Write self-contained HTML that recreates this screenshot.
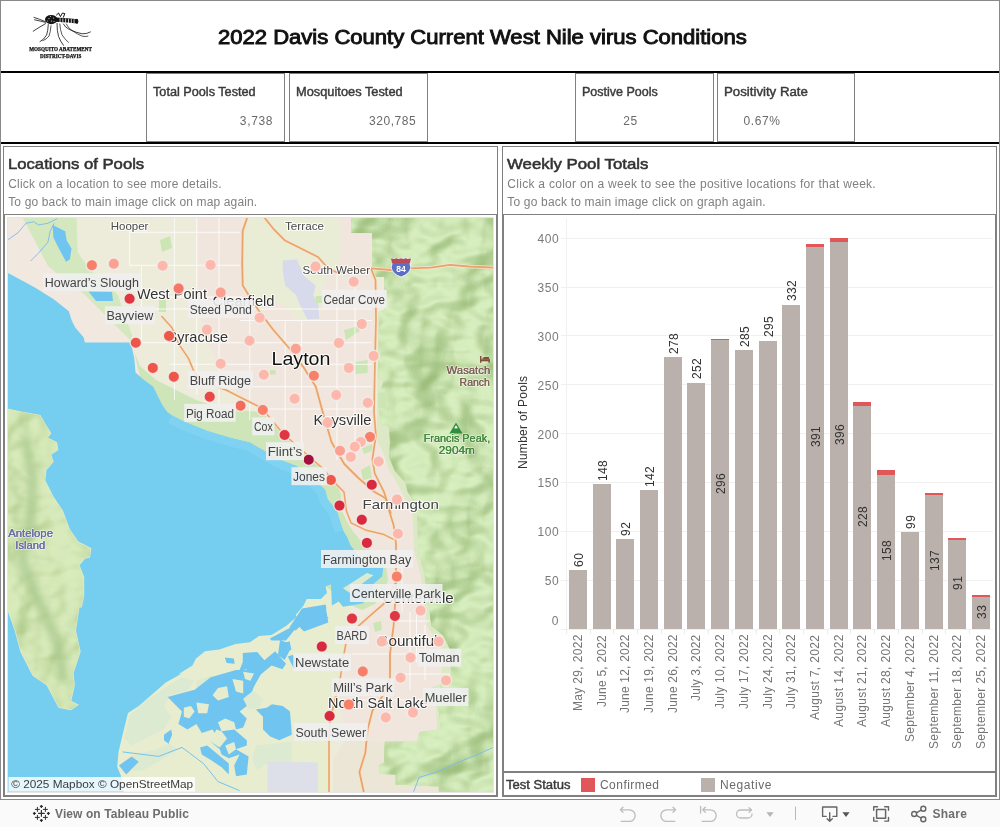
<!DOCTYPE html><html><head><meta charset="utf-8"><title>2022 Davis County Current West Nile virus Conditions</title><style>

html,body{margin:0;padding:0;background:#fff}
body{width:1000px;height:827px;position:relative;overflow:hidden;font-family:"Liberation Sans",sans-serif}
.t{position:absolute;white-space:pre;line-height:1;transform-origin:0 0}
.b{position:absolute;box-sizing:border-box}

</style></head><body><div id="w" style="position:absolute;left:0;top:0;width:1000px;height:827px;will-change:transform;background:#fff">

<div class="b" style="left:0;top:0;width:1000px;height:800px;border:1px solid #8a8a8a"></div>
<div class="b" style="left:0;top:800px;width:1000px;height:27px;background:#fafafa"></div>
<div class="b" style="left:1px;top:71px;width:998px;height:2px;background:#000"></div>
<div class="b" style="left:1px;top:142px;width:998px;height:2px;background:#000"></div>
<div class="b" style="left:146px;top:73px;width:139px;height:69px;border:1px solid #808080"></div>
<div class="b" style="left:289px;top:73px;width:139px;height:69px;border:1px solid #808080"></div>
<div class="b" style="left:575px;top:73px;width:139px;height:69px;border:1px solid #808080"></div>
<div class="b" style="left:717px;top:73px;width:138px;height:69px;border:1px solid #808080"></div>
<div class="b" style="left:1px;top:71px;width:998px;height:2px;background:#000"></div>
<div class="b" style="left:1px;top:142px;width:998px;height:2px;background:#000"></div>
<div class="b" style="left:3px;top:146px;width:495px;height:651px;border:1px solid #808080"></div>
<div class="b" style="left:4px;top:214px;width:493px;height:582px;border:1px solid #808080"></div>
<div class="b" style="left:502px;top:146px;width:495px;height:651px;border:1px solid #808080"></div>
<div class="b" style="left:503px;top:214px;width:493px;height:558px;border:1px solid #808080"></div>
<div class="b" style="left:503px;top:772px;width:493px;height:24px;border:1px solid #808080"></div>
<div class="b" style="left:581px;top:778px;width:14px;height:14px;background:#e15759"></div>
<div class="b" style="left:701px;top:778px;width:14px;height:14px;background:#bab0ac"></div>

<svg class="b" style="left:26px;top:6px" width="72" height="56" viewBox="26 6 72 56">
<g fill="none" stroke="#111" stroke-linecap="round">
<ellipse cx="51.2" cy="19.6" rx="6.2" ry="4.6" fill="#151515" stroke="none"/>
<path d="M56 19.6 L63 20.2 L70 20.7 L77.3 21.3" stroke-width="4.2" stroke-linecap="butt"/>
<path d="M77 19.3 q1.6 2 0 4" stroke-width="1.2"/>
<path d="M56.5 15 L58.5 13 L60 15.8 M60.5 16.5 L62.5 13 L64.8 13.6 L63.4 17.2" stroke-width="1"/>
<path d="M45.5 21.6 L39.5 19.3 L34 17.4 M45.3 22.3 L39 20.8 L34.6 19.8" stroke-width="0.8"/>
<path d="M45.6 23.6 L39 27.5 L33.2 31.2" stroke-width="0.8"/>
<path d="M48.3 24.5 Q48 31 46.6 35 Q44 39.5 40 41.7" stroke-width="0.8"/>
<path d="M51 25.8 Q50.6 32 49 36 Q46.5 39.5 42.8 40.7" stroke-width="0.7"/>
<path d="M57 23.3 Q57 31 58.5 36.4 Q60.5 41.5 63.4 45.3" stroke-width="0.8"/>
<path d="M59.8 24 Q60.2 30 62 34.8 Q64.5 39 68.5 42.4" stroke-width="0.7"/>
<path d="M63.4 24 Q65 27.4 69.2 29.4 Q76 32.6 82.2 33.8 Q87 34 90.4 32" stroke-width="0.8"/>
<path d="M66.3 24 Q68 28 72.1 30.6 Q77 34 82.2 36.2 Q85 36.8 87.9 36.2" stroke-width="0.7"/>
</g>
<g fill="#fff" opacity="0.85"><rect x="59.6" y="18.2" width="0.9" height="4.4"/><rect x="62.4" y="18.4" width="0.9" height="4.4"/><rect x="65.2" y="18.6" width="0.9" height="4.4"/><rect x="68" y="18.8" width="0.9" height="4.4"/><rect x="70.8" y="19" width="0.9" height="4.4"/><rect x="73.6" y="19.2" width="0.9" height="4.4"/>
<circle cx="49" cy="18.6" r="0.6"/><circle cx="51.5" cy="21" r="0.6"/><circle cx="53.6" cy="18" r="0.55"/><circle cx="50.5" cy="16.6" r="0.5"/><circle cx="47.6" cy="21" r="0.5"/><circle cx="54" cy="21.6" r="0.5"/></g>
<g font-family="'Liberation Serif',serif" font-weight="700" fill="#111" stroke="#111" stroke-width="0.25">
<text x="29.2" y="51" font-size="5.2" textLength="62.7" lengthAdjust="spacingAndGlyphs">MOSQUITO ABATEMENT</text>
<text x="40" y="57.8" font-size="5.2" textLength="41.4" lengthAdjust="spacingAndGlyphs">DISTRICT-DAVIS</text>
</g></svg>
<svg class="b" style="left:7px;top:217px" width="487" height="576" viewBox="7 217 487 576" font-family="'Liberation Sans',sans-serif">
<defs>
<filter id="hs" x="0" y="0" width="100%" height="100%" color-interpolation-filters="sRGB"><feTurbulence type="fractalNoise" baseFrequency="0.016 0.022" numOctaves="3" seed="11" result="n"/>
<feDiffuseLighting in="n" surfaceScale="30" diffuseConstant="1" lighting-color="#fff" result="l"><feDistantLight azimuth="200" elevation="60"/></feDiffuseLighting>
<feColorMatrix in="l" type="matrix" values="0.24 0 0 0 0.605  0 0.195 0 0 0.738  0 0 0.27 0 0.478  0 0 0 1 0" result="c"/><feComposite in="c" in2="SourceGraphic" operator="in"/></filter>
<filter id="hs2" x="0" y="0" width="100%" height="100%" color-interpolation-filters="sRGB"><feTurbulence type="fractalNoise" baseFrequency="0.02 0.025" numOctaves="3" seed="4" result="n"/>
<feDiffuseLighting in="n" surfaceScale="13" diffuseConstant="1" lighting-color="#fff" result="l"><feDistantLight azimuth="200" elevation="62"/></feDiffuseLighting>
<feColorMatrix in="l" type="matrix" values="0.22 0 0 0 0.63  0 0.17 0 0 0.75  0 0 0.26 0 0.475  0 0 0 1 0" result="c"/><feComposite in="c" in2="SourceGraphic" operator="in"/></filter>
</defs>
<rect x="7" y="217" width="487" height="576" fill="#f1e8df"/>
<polygon points="76.5,217.0 77.7,252.4 88.3,267.7 117.8,294.8 124.9,316.0 132.0,334.9 134.0,352.0 140.0,366.0 156.0,380.0 174.0,389.0 196.0,400.0 217.7,407.0 240.0,410.0 261.6,412.0 282.8,433.2 304.0,452.0 322.9,468.6 337.0,485.0 341.0,495.0 346.0,520.0 360.0,540.0 378.0,556.0 388.0,580.0 375.0,604.0 345.0,625.0 340.0,680.0 331.0,740.0 331.0,793.0 494.0,793.0 494.0,217.0" fill="#edecda"/>
<polygon points="196.0,217.0 264.0,217.0 273.0,228.0 285.0,240.0 304.0,250.0 318.0,257.0 333.0,270.0 338.0,262.0 340.0,240.0 338.0,217.0 351.0,217.0 351.0,234.0 372.5,234.0 372.5,270.0 376.0,300.0 376.0,412.0 377.0,440.0 384.0,455.0 389.0,470.0 398.0,485.0 403.0,495.0 412.0,510.0 414.0,551.0 420.0,572.0 425.0,607.0 427.0,626.0 436.0,640.0 443.0,655.0 440.0,684.0 436.0,706.0 437.0,732.0 417.0,741.0 345.0,741.0 340.0,700.0 345.0,640.0 375.0,604.0 388.0,580.0 378.0,556.0 360.0,540.0 346.0,520.0 337.0,485.0 322.0,468.0 304.0,452.0 282.0,433.0 262.0,412.0 250.0,404.0 228.0,385.0 208.0,345.0 197.0,300.0" fill="#f1e6de"/>
<polygon points="247.0,217.0 338.0,217.0 340.0,240.0 338.0,262.0 333.0,272.0 322.0,290.0 320.0,318.0 300.0,322.0 285.0,305.0 270.0,300.0 262.0,312.0 250.0,297.0 243.0,285.0 242.4,260.0 243.0,231.0" fill="#eaedd6"/>
<polygon points="110.0,793.0 110.0,700.0 150.0,680.0 200.0,640.0 260.0,625.0 300.0,595.0 330.0,580.0 352.0,600.0 346.0,640.0 339.0,690.0 331.0,740.0 331.0,793.0" fill="#e8edcf"/>
<polygon points="345.0,741.0 384.8,741.4 383.9,763.0 379.4,764.8 379.4,773.8 395.6,774.7 395.6,784.6 438.8,786.4 438.8,793.0 333.0,793.0 333.0,760.0" fill="#ebe6d6"/>
<polygon points="22.3,217.0 76.5,217.0 77.7,252.4 88.3,267.7 117.8,294.8 124.9,316.0 132.0,334.9 131.0,342.4 129.6,339.6 84.8,294.8 48.3,266.5" fill="#d3e8be"/>
<polygon points="134.3,352.0 140.0,366.0 156.0,380.0 174.0,389.0 196.0,400.0 217.7,407.0 240.0,410.0 261.6,412.0 282.8,433.2 304.0,452.0 322.9,468.6 337.0,485.0 341.0,495.0 341.0,508.0 346.0,520.0 352.0,530.0 360.0,540.0 368.0,548.0 378.0,556.0 386.0,566.0 388.0,580.0 384.0,592.0 375.0,604.0 362.0,610.0 345.0,603.0 330.0,590.0 300.0,560.0 250.0,520.0 200.0,480.0 150.0,420.0" fill="#cde5b8"/>
<polygon points="351.0,217.0 351.0,233.5 372.5,233.5 372.5,272.0 384.0,277.0 384.0,310.0 378.0,312.0 377.0,412.0 377.0,440.0 384.0,455.0 389.0,470.0 398.0,485.0 403.0,495.0 412.0,510.0 414.0,551.0 420.0,572.0 425.0,607.0 427.0,626.0 436.0,640.0 443.0,655.0 440.0,684.0 424.0,690.0 424.0,700.0 436.0,706.0 437.0,732.0 494.0,732.0 494.0,217.0" fill="#dde9c6"/>
<polygon points="351.0,217.0 351.0,233.0 372.0,233.0 372.4,277.0 384.0,277.0 384.0,310.0 379.0,312.0 378.3,377.0 384.0,380.0 379.4,395.0 379.4,412.0 380.6,423.8 388.9,426.0 390.0,442.6 388.9,456.8 394.8,471.0 405.4,482.7 407.7,492.0 417.0,506.3 418.3,551.0 424.2,572.3 429.0,607.0 431.3,625.9 443.0,635.3 450.0,649.4 451.3,677.7 440.7,684.8 438.4,706.0 440.7,729.6 419.5,732.0 417.0,741.4 384.8,741.4 383.9,763.0 379.4,764.8 379.4,773.8 395.6,774.7 395.6,784.6 438.8,786.4 438.8,793.0 494.0,793.0 494.0,217.0" fill="#c4dda7"/>
<polygon points="351.0,217.0 351.0,233.0 372.0,233.0 372.4,277.0 384.0,277.0 384.0,310.0 379.0,312.0 378.3,377.0 384.0,380.0 379.4,395.0 379.4,412.0 380.6,423.8 388.9,426.0 390.0,442.6 388.9,456.8 394.8,471.0 405.4,482.7 407.7,492.0 417.0,506.3 418.3,551.0 424.2,572.3 429.0,607.0 431.3,625.9 443.0,635.3 450.0,649.4 451.3,677.7 440.7,684.8 438.4,706.0 440.7,729.6 419.5,732.0 417.0,741.4 384.8,741.4 383.9,763.0 379.4,764.8 379.4,773.8 395.6,774.7 395.6,784.6 438.8,786.4 438.8,793.0 494.0,793.0 494.0,217.0" fill="#000" filter="url(#hs)"/>
<polygon points="7.0,272.4 18.8,278.8 35.3,287.7 54.1,299.5 68.8,311.3 71.8,320.7 75.4,327.8 83.6,337.2 84.8,342.4 130.8,342.4 134.3,358.4 135.5,372.6 143.7,379.7 153.2,386.7 157.9,396.2 162.6,405.6 167.3,412.0 172.0,415.5 183.8,421.4 207.4,430.9 230.9,437.9 249.8,442.6 266.3,452.0 278.0,459.0 297.0,466.2 300.5,471.0 318.0,482.7 325.0,489.8 327.6,499.2 337.0,511.0 339.0,518.0 342.9,530.0 347.6,537.9 350.7,545.7 353.9,549.6 366.0,566.0 383.3,567.6 382.2,576.3 373.5,584.0 371.4,594.8 362.7,603.5 343.0,606.8 338.7,601.4 331.9,605.4 331.0,584.2 325.6,586.6 327.0,592.9 320.9,599.0 306.7,599.0 303.6,605.4 295.7,614.9 296.8,617.0 286.0,626.0 271.6,635.0 259.0,635.9 250.0,642.2 235.6,644.0 219.4,649.4 205.0,651.2 196.0,658.4 192.4,665.6 178.0,674.6 182.0,673.6 165.8,682.6 151.4,695.0 138.8,706.0 128.0,713.0 122.6,734.8 118.5,752.0 117.2,767.0 121.0,776.0 124.0,793.0 7.0,793.0" fill="#75cef0"/>
<clipPath id="lk"><polygon points="7.0,272.4 18.8,278.8 35.3,287.7 54.1,299.5 68.8,311.3 71.8,320.7 75.4,327.8 83.6,337.2 84.8,342.4 130.8,342.4 134.3,358.4 135.5,372.6 143.7,379.7 153.2,386.7 157.9,396.2 162.6,405.6 167.3,412.0 172.0,415.5 183.8,421.4 207.4,430.9 230.9,437.9 249.8,442.6 266.3,452.0 278.0,459.0 297.0,466.2 300.5,471.0 318.0,482.7 325.0,489.8 327.6,499.2 337.0,511.0 339.0,518.0 342.9,530.0 347.6,537.9 350.7,545.7 353.9,549.6 366.0,566.0 383.3,567.6 382.2,576.3 373.5,584.0 371.4,594.8 362.7,603.5 343.0,606.8 338.7,601.4 331.9,605.4 331.0,584.2 325.6,586.6 327.0,592.9 320.9,599.0 306.7,599.0 303.6,605.4 295.7,614.9 296.8,617.0 286.0,626.0 271.6,635.0 259.0,635.9 250.0,642.2 235.6,644.0 219.4,649.4 205.0,651.2 196.0,658.4 192.4,665.6 178.0,674.6 182.0,673.6 165.8,682.6 151.4,695.0 138.8,706.0 128.0,713.0 122.6,734.8 118.5,752.0 117.2,767.0 121.0,776.0 124.0,793.0 7.0,793.0"/></clipPath>
<path d="M172.0 415.5 L183.8 421.4 L207.4 430.9 L230.9 437.9 L249.8 442.6 L266.3 452.0 L278.0 459.0 L297.0 466.2 L300.5 471.0 L318.0 482.7 L325.0 489.8 L327.6 499.2 L337.0 511.0 L339.0 518.0 L342.9 530.0" fill="none" stroke="#82d3f1" stroke-width="17" stroke-linejoin="round" clip-path="url(#lk)" opacity="0.8"/>
<polygon points="129.8,715.0 151.4,697.0 167.6,686.2 182.0,677.2 194.6,680.8 187.4,691.6 169.4,695.2 164.0,706.0 171.2,716.8 164.0,729.4 146.0,738.4 131.6,745.6 124.4,738.4" fill="#d9e9d2" opacity="0.8"/>
<polygon points="133.4,754.6 151.4,751.0 169.4,743.8 178.4,749.2 155.0,763.6 142.4,770.8 129.8,770.8" fill="#d9e9d2" opacity="0.8"/>
<polygon points="196.4,680.8 210.8,675.4 218.0,684.4 207.2,691.6 196.4,689.8" fill="#d9e9d2" opacity="0.8"/>
<polygon points="243.2,698.8 254.0,691.6 263.0,698.8 259.4,707.8 248.6,709.6" fill="#d9e9d2" opacity="0.8"/>
<polygon points="255.8,745.6 291.8,742.0 291.8,763.6 268.4,761.8 257.6,770.8 252.2,760.0" fill="#d9e9d2" opacity="0.8"/>
<polygon points="269.8,638.6 296.8,624.2 304.0,611.6 325.6,606.2 328.3,622.4 304.0,631.4 298.6,626.0 293.2,631.4 286.0,640.4 271.6,640.4" fill="#70c4f0"/>
<polygon points="302.0,608.6 325.6,604.6 326.4,608.6 316.0,611.7 325.6,615.6 328.7,618.0 311.4,621.0 300.4,625.9 295.7,630.6 289.4,627.4 295.7,618.0" fill="#70c4f0"/>
<polygon points="280.6,644.0 289.6,641.3 291.4,649.4 284.2,654.8" fill="#70c4f0"/>
<polygon points="287.8,656.6 293.2,654.8 298.6,665.6 294.0,669.0" fill="#70c4f0"/>
<polygon points="242.8,653.0 257.2,652.0 264.4,660.2 275.2,651.2 286.0,663.8 282.4,669.2 271.6,665.6 260.8,674.6 253.6,687.2 242.8,690.8 244.6,680.0 250.0,674.6 246.4,669.2 239.2,671.0 242.8,662.0" fill="#70c4f0"/>
<polygon points="224.8,657.5 233.8,658.4 234.7,663.8 226.6,662.9" fill="#70c4f0"/>
<polygon points="280.0,640.0 287.9,643.0 289.4,651.0 284.7,660.0 278.0,655.0" fill="#70c4f0"/>
<polygon points="52.6,224.9 65.2,231.2 66.7,240.6 71.5,248.4 69.9,259.5 66.0,261.8 58.9,248.4 53.4,237.4" fill="#70c4f0"/>
<polygon points="88.5,291.5 112.0,292.0 113.0,301.0 96.0,301.0" fill="#70c4f0"/>
<polygon points="167.6,697.0 194.6,689.8 210.8,677.2 236.0,670.0 259.4,670.0 252.2,691.6 243.2,698.8 246.8,706.0 239.6,711.4 246.8,718.6 243.2,727.6 236.0,729.4 234.2,722.2 225.2,718.6 218.0,722.2 221.6,731.2 234.2,729.4 246.8,740.2 246.8,745.6 236.0,749.2 248.6,756.4 246.8,774.4 236.0,776.2 234.2,765.4 239.6,754.6 228.8,758.2 221.6,754.6 219.8,749.2 210.8,742.0 218.0,738.4 212.6,729.4 201.8,733.0 196.4,724.0 187.4,729.4 178.4,724.0 182.0,711.4 174.8,704.2" fill="#70c4f0"/>
<polygon points="255.8,709.6 266.6,707.8 272.0,704.2 282.8,706.0 290.0,711.4 291.8,734.8 279.2,740.2 270.2,736.6 263.0,729.4 263.0,716.8" fill="#70c4f0"/>
<polygon points="200.0,747.4 207.2,745.6 218.0,754.6 228.8,763.6 228.8,774.4 221.6,767.2 210.8,760.0 201.8,754.6" fill="#70c4f0"/>
<polygon points="164.0,734.8 171.2,729.4 172.1,734.8 168.5,743.8 164.0,740.2" fill="#70c4f0"/>
<polygon points="119.0,765.4 131.6,756.4 138.8,761.8 126.2,774.4" fill="#70c4f0"/>
<polygon points="343,588.3 367,573 373.5,575.2 349.6,592.7" fill="#dcebcf"/>
<polygon points="183.8,707.8 191.0,706.0 194.6,711.4 189.2,718.6 183.8,716.8" fill="#e6edcf"/>
<polygon points="196.4,702.4 209.0,704.2 207.2,713.2 198.2,713.2" fill="#e6edcf"/>
<polygon points="212.6,695.2 218.0,688.0 227.0,686.2 228.8,697.0 218.0,700.6" fill="#e6edcf"/>
<polygon points="232.4,679.0 243.2,680.8 243.2,693.4 236.0,691.6" fill="#e6edcf"/>
<polygon points="243.2,671.8 254.0,673.6 250.4,680.8 245.0,679.0" fill="#e6edcf"/>
<polygon points="216.2,729.4 210.8,742.0 219.8,747.4 227.0,738.4 221.6,731.2" fill="#e6edcf"/>
<polygon points="225.2,745.6 234.2,742.0 236.0,749.2 228.8,754.6" fill="#e6edcf"/>
<path d="M122.6 751.9 L158.6 756.4 L182.0 747.4 L203.6 763.6 L218.0 781.6 L239.6 790.6" fill="none" stroke="#70c4f0" stroke-width="1"/>
<path d="M7.8 239.8 L18.0 232.7 L25.9 223.3 L33.7 221.7 L38.4 224.9 L47.9 223.3 L57.3 218.6" fill="none" stroke="#7db8f0" stroke-width="0.9"/><path d="M30.6 261.0 L38.4 253.2 L47.9 242.2 L50.2 231.2 L54.2 223.3" fill="none" stroke="#7db8f0" stroke-width="0.9"/>
<polygon points="7.0,409.0 21.1,412.0 40.0,415.5 44.7,423.8 50.6,433.2 47.0,437.9 56.5,442.6 57.7,449.7 50.6,454.4 53.0,461.5 45.9,469.8 44.7,480.4 53.0,496.9 62.4,511.0 69.5,529.9 77.7,541.7 90.7,548.7 89.5,557.0 84.8,558.2 78.9,565.2 83.6,577.0 83.6,595.9 81.3,607.0 78.9,607.0 75.4,630.6 80.0,651.8 73.0,673.0 74.2,684.8 70.6,701.3 77.7,704.8 70.6,709.5 58.9,707.2 47.0,684.8 33.0,675.4 21.0,651.8 15.3,630.6 9.4,614.0 7.0,607.0" fill="#c9e1ac" stroke="#ece9c4" stroke-width="1.2"/>
<polygon points="7.0,409.0 21.1,412.0 40.0,415.5 44.7,423.8 50.6,433.2 47.0,437.9 56.5,442.6 57.7,449.7 50.6,454.4 53.0,461.5 45.9,469.8 44.7,480.4 53.0,496.9 62.4,511.0 69.5,529.9 77.7,541.7 90.7,548.7 89.5,557.0 84.8,558.2 78.9,565.2 83.6,577.0 83.6,595.9 81.3,607.0 78.9,607.0 75.4,630.6 80.0,651.8 73.0,673.0 74.2,684.8 70.6,701.3 77.7,704.8 70.6,709.5 58.9,707.2 47.0,684.8 33.0,675.4 21.0,651.8 15.3,630.6 9.4,614.0 7.0,607.0" fill="#000" filter="url(#hs2)"/>
<filter id="bl" x="-50%" y="-50%" width="200%" height="200%"><feGaussianBlur stdDeviation="3.5"/></filter>
<clipPath id="isl"><polygon points="7.0,409.0 21.1,412.0 40.0,415.5 44.7,423.8 50.6,433.2 47.0,437.9 56.5,442.6 57.7,449.7 50.6,454.4 53.0,461.5 45.9,469.8 44.7,480.4 53.0,496.9 62.4,511.0 69.5,529.9 77.7,541.7 90.7,548.7 89.5,557.0 84.8,558.2 78.9,565.2 83.6,577.0 83.6,595.9 81.3,607.0 78.9,607.0 75.4,630.6 80.0,651.8 73.0,673.0 74.2,684.8 70.6,701.3 77.7,704.8 70.6,709.5 58.9,707.2 47.0,684.8 33.0,675.4 21.0,651.8 15.3,630.6 9.4,614.0 7.0,607.0"/></clipPath>
<g clip-path="url(#isl)"><path d="M25 436 L33 480 L30 520 L22 560 L38 600 L56 640 L64 682" fill="none" stroke="#a6c68a" stroke-width="9" stroke-opacity="0.75" filter="url(#bl)"/><path d="M44 450 L50 500 L62 540 L70 590 L72 640" fill="none" stroke="#d9ecc0" stroke-width="7" stroke-opacity="0.7" filter="url(#bl)"/></g>
<path d="M413.6 791.8 L419 777.4 L437 772 L456.8 763 L478.4 754 L492.8 747.7" fill="none" stroke="#7db8f0" stroke-width="0.9"/>
<polygon points="282.8,260.6 297.0,259.4 304.0,276.0 315.8,285.4 313.4,294.8 318.2,304.2 319.3,318.4 307.5,319.5 300.5,306.6 295.8,294.8 285.2,285.4 282.8,271.2" fill="#d7daea"/>
<polygon points="267.5,761.4 318.0,762.6 318.0,793.0 267.5,793.0" fill="#dddfe9"/>
<polygon points="344.0,330.0 359.0,326.0 360.0,331.0 346.0,340.0" fill="#cbe6b4"/>
<polygon points="354.7,362.0 367.6,360.0 367.6,373.0 355.0,374.0" fill="#cbe6b4"/>
<polygon points="378.3,392.6 386.5,392.6 386.5,408.0 378.3,408.0" fill="#cbe6b4"/>
<polygon points="315.8,296.0 322.9,296.0 322.9,303.0 315.8,303.0" fill="#cbe6b4"/>
<polygon points="269.8,370.2 275.7,370.2 275.7,374.5 269.8,374.5" fill="#cbe6b4"/>
<polygon points="362.0,448.0 372.0,444.0 374.0,450.0 364.0,454.0" fill="#cbe6b4"/>
<polygon points="361.0,470.0 370.0,465.0 372.0,478.0 363.0,480.0" fill="#cbe6b4"/>
<polygon points="373.0,623.0 381.0,621.0 382.0,630.0 375.0,632.0" fill="#cbe6b4"/>
<polygon points="160.0,240.0 170.0,236.0 172.0,248.0 162.0,252.0" fill="#cbe6b4"/>
<polygon points="159.0,300.0 166.0,300.0 166.0,312.0 159.0,312.0" fill="#cbe6b4"/>
<polygon points="427.0,690.0 436.0,688.0 436.0,696.0 428.0,697.0" fill="#cbe6b4"/>
<g stroke="#fff" stroke-width="0.9" fill="none" opacity="0.85">
<path d="M352 654H450"/>
<path d="M396 674H450"/>
<path d="M396 640H440"/>
<path d="M396 621H430"/>
<path d="M350 700H438"/>
<path d="M129.6 232.3H240"/>
<path d="M129.6 265.3H240"/>
<path d="M141 309H372"/>
<path d="M240 320.5H372"/>
<path d="M136 342.7H372"/>
<path d="M170 364.3H372"/>
<path d="M215 386.7H372"/>
<path d="M260 409H372"/>
<path d="M141 297H242"/>
<path d="M410 612V690"/>
<path d="M416.5 612V662"/>
<path d="M425 625V680"/>
<path d="M402 560V612"/>
<path d="M129.6 228V265.3"/>
<path d="M141.4 265.3V342.7"/>
<path d="M174.4 217V400"/>
<path d="M196.7 217V395"/>
<path d="M219 217V405"/>
<path d="M249.8 300V420"/>
<path d="M285.2 320V440"/>
<path d="M301.6 320V450"/>
<path d="M337 272V460"/>
<path d="M355 280V450"/>
</g>
<path d="M161.4 316.0 L172.0 327.8 L179.0 344.3 L188.5 358.4 L194.4 372.6 L205.0 383.0 L226.0 390.0 L242.7 398.5 L261.6 408.0 L282.8 433.2 L304.0 452.0 L322.9 468.6 L337.0 485.0 L344.0 492.0 L346.4 511.0 L351.0 522.8 L365.3 529.9 L384.0 534.6 L393.6 539.3" fill="none" stroke="#f8e3cc" stroke-width="3.0" stroke-linejoin="round"/>
<path d="M396.0 582.0 L383.7 603.8 L372.7 613.3 L358.6 625.9 L346.0 643.0 L342.9 660.0 L340.0 680.0 L335.0 700.0 L330.0 720.0 L329.0 740.0 L329.0 793.0" fill="none" stroke="#f8e3cc" stroke-width="3.1" stroke-linejoin="round"/>
<path d="M247.4 217.0 L242.7 231.0 L242.2 264.0 L242.7 285.4 L249.8 297.0 L259.2 311.3 L273.4 330.0 L289.9 349.0 L304.0 367.9 L315.8 386.7 L322.6 411.4 L331.6 442.2 L344.3 464.0 L358.9 478.5 L374.7 492.0 L385.3 498.0 L390.0 513.4 L393.6 525.0 L396.0 544.0 L396.0 577.0 L396.0 600.0 L394.8 607.0 L393.6 625.9 L390.0 654.0 L390.0 677.7 L384.0 694.0 L372.4 710.7 L367.6 729.6 L365.3 753.0 L359.4 772.0 L364.0 793.0" fill="none" stroke="#f8e3cc" stroke-width="3.3" stroke-linejoin="round"/>
<path d="M263.9 217.0 L273.4 228.8 L285.0 240.6 L304.0 250.0 L318.0 257.0 L327.6 267.7 L337.0 272.4 L355.0 270.0 L371.0 268.4 L375.5 280.0 L376.0 320.0 L375.0 360.0 L374.0 412.0 L375.9 435.6 L372.4 459.0 L374.7 473.3 L384.0 492.0 L391.0 513.4" fill="none" stroke="#f8e3cc" stroke-width="3.2" stroke-linejoin="round"/>
<path d="M371.0 268.4 L391.0 270.0 L410.0 268.4 L431.0 267.7 L450.0 264.9 L469.0 266.5 L494.0 267.7" fill="none" stroke="#f8e3cc" stroke-width="3.3" stroke-linejoin="round"/>
<path d="M161.4 316.0 L172.0 327.8 L179.0 344.3 L188.5 358.4 L194.4 372.6 L205.0 383.0 L226.0 390.0 L242.7 398.5 L261.6 408.0 L282.8 433.2 L304.0 452.0 L322.9 468.6 L337.0 485.0 L344.0 492.0 L346.4 511.0 L351.0 522.8 L365.3 529.9 L384.0 534.6 L393.6 539.3" fill="none" stroke="#e9a46c" stroke-width="1.5" stroke-linejoin="round"/>
<path d="M396.0 582.0 L383.7 603.8 L372.7 613.3 L358.6 625.9 L346.0 643.0 L342.9 660.0 L340.0 680.0 L335.0 700.0 L330.0 720.0 L329.0 740.0 L329.0 793.0" fill="none" stroke="#e9a46c" stroke-width="1.6" stroke-linejoin="round"/>
<path d="M247.4 217.0 L242.7 231.0 L242.2 264.0 L242.7 285.4 L249.8 297.0 L259.2 311.3 L273.4 330.0 L289.9 349.0 L304.0 367.9 L315.8 386.7 L322.6 411.4 L331.6 442.2 L344.3 464.0 L358.9 478.5 L374.7 492.0 L385.3 498.0 L390.0 513.4 L393.6 525.0 L396.0 544.0 L396.0 577.0 L396.0 600.0 L394.8 607.0 L393.6 625.9 L390.0 654.0 L390.0 677.7 L384.0 694.0 L372.4 710.7 L367.6 729.6 L365.3 753.0 L359.4 772.0 L364.0 793.0" fill="none" stroke="#e9a46c" stroke-width="1.8" stroke-linejoin="round"/>
<path d="M263.9 217.0 L273.4 228.8 L285.0 240.6 L304.0 250.0 L318.0 257.0 L327.6 267.7 L337.0 272.4 L355.0 270.0 L371.0 268.4 L375.5 280.0 L376.0 320.0 L375.0 360.0 L374.0 412.0 L375.9 435.6 L372.4 459.0 L374.7 473.3 L384.0 492.0 L391.0 513.4" fill="none" stroke="#e9a46c" stroke-width="1.7" stroke-linejoin="round"/>
<path d="M371.0 268.4 L391.0 270.0 L410.0 268.4 L431.0 267.7 L450.0 264.9 L469.0 266.5 L494.0 267.7" fill="none" stroke="#e9a46c" stroke-width="1.8" stroke-linejoin="round"/>
<g transform="translate(0.4,-1)"><path d="M391.3 259.3 q2.3 1.4 4.6 0 q2.3 1.4 4.7 0 q2.3 1.4 4.6 0 q2.3 1.4 4.6 0 l0.6 1 q-1.6 4.5 0 8.5 q-1.5 6.5 -9.8 9.2 q-8.3 -2.7 -9.8 -9.2 q1.6 -4 0 -8.5z" fill="#5b70c4" stroke="#fff" stroke-width="0.8"/><path d="M391.3 259.3 q2.3 1.4 4.6 0 q2.3 1.4 4.7 0 q2.3 1.4 4.6 0 q2.3 1.4 4.6 0 l0.6 1 q-0.7 2 -0.8 3.6 h-18.1 q-0.1 -1.6 -0.8 -3.6z" fill="#b84a5c"/><text x="400.6" y="272.6" font-size="8.6" font-weight="700" fill="#fff" text-anchor="middle">84</text></g>
<path d="M456 422.6 L462.6 433.6 H449.4Z" fill="#2f8f3f"/><path d="M456 425.2 l2 3.4 l-1.2 -0.6 l-0.8 1 l-0.8 -1 l-1.2 0.6z" fill="#fff"/>
<g fill="#80503f"><rect x="480" y="356" width="1.4" height="6.8"/><rect x="480" y="359.3" width="9.9" height="2"/><rect x="488.5" y="359.3" width="1.4" height="3.5"/><rect x="482.2" y="357" width="7" height="2.4" rx="0.9"/><circle cx="482.9" cy="357.6" r="0.9" fill="#fff" fill-opacity="0.55"/></g>
<text x="110.7" y="230" font-size="11" font-weight="400" fill="#4a4a4a" stroke="#fff" stroke-opacity="0.85" stroke-width="2.2" paint-order="stroke" stroke-linejoin="round" textLength="37.7" lengthAdjust="spacingAndGlyphs">Hooper</text>
<text x="285" y="230" font-size="11" font-weight="400" fill="#4a4a4a" stroke="#fff" stroke-opacity="0.85" stroke-width="2.2" paint-order="stroke" stroke-linejoin="round" textLength="39.0" lengthAdjust="spacingAndGlyphs">Terrace</text>
<text x="302.6" y="274.3" font-size="11.5" font-weight="400" fill="#444" stroke="#fff" stroke-opacity="0.85" stroke-width="2.2" paint-order="stroke" stroke-linejoin="round" textLength="67.4" lengthAdjust="spacingAndGlyphs">South Weber</text>
<text x="136.7" y="298.5" font-size="14.5" font-weight="400" fill="#333" stroke="#fff" stroke-opacity="0.85" stroke-width="2.2" paint-order="stroke" stroke-linejoin="round" textLength="70.3" lengthAdjust="spacingAndGlyphs">West Point</text>
<text x="212.5" y="305.7" font-size="14.5" font-weight="400" fill="#333" stroke="#fff" stroke-opacity="0.85" stroke-width="2.2" paint-order="stroke" stroke-linejoin="round" textLength="62.0" lengthAdjust="spacingAndGlyphs">Clearfield</text>
<text x="167.6" y="342.1" font-size="14.5" font-weight="400" fill="#333" stroke="#fff" stroke-opacity="0.85" stroke-width="2.2" paint-order="stroke" stroke-linejoin="round" textLength="60.4" lengthAdjust="spacingAndGlyphs">Syracuse</text>
<text x="271.5" y="364.8" font-size="18.6" font-weight="400" fill="#111" stroke="#fff" stroke-opacity="0.85" stroke-width="2.2" paint-order="stroke" stroke-linejoin="round" textLength="58.9" lengthAdjust="spacingAndGlyphs">Layton</text>
<text x="313.5" y="425.4" font-size="14.5" font-weight="400" fill="#333" stroke="#fff" stroke-opacity="0.85" stroke-width="2.2" paint-order="stroke" stroke-linejoin="round" textLength="58.0" lengthAdjust="spacingAndGlyphs">Kaysville</text>
<text x="362.5" y="509.1" font-size="13.5" font-weight="400" fill="#444" stroke="#fff" stroke-opacity="0.85" stroke-width="2.2" paint-order="stroke" stroke-linejoin="round" textLength="76.3" lengthAdjust="spacingAndGlyphs">Farmington</text>
<text x="382.4" y="603" font-size="14.5" font-weight="400" fill="#333" stroke="#fff" stroke-opacity="0.85" stroke-width="2.2" paint-order="stroke" stroke-linejoin="round" textLength="71.3" lengthAdjust="spacingAndGlyphs">Centerville</text>
<text x="378.3" y="646.4" font-size="14.5" font-weight="400" fill="#333" stroke="#fff" stroke-opacity="0.85" stroke-width="2.2" paint-order="stroke" stroke-linejoin="round" textLength="59.2" lengthAdjust="spacingAndGlyphs">Bountiful</text>
<text x="328" y="708.4" font-size="14.5" font-weight="400" fill="#333" stroke="#fff" stroke-opacity="0.85" stroke-width="2.2" paint-order="stroke" stroke-linejoin="round" textLength="99.8" lengthAdjust="spacingAndGlyphs">North Salt Lake</text>
<text x="8.2" y="536.5" font-size="11" fill="#6c6caa" stroke="#fff" stroke-opacity="0.6" stroke-width="1.6" paint-order="stroke" stroke-linejoin="round" textLength="44.8" lengthAdjust="spacingAndGlyphs">Antelope</text>
<text x="8.2" y="536.5" font-size="11" fill="#6c6caa" stroke="#6c6caa" stroke-width="0.2" textLength="44.8" lengthAdjust="spacingAndGlyphs">Antelope</text>
<text x="15.3" y="549.4" font-size="11" fill="#6c6caa" stroke="#fff" stroke-opacity="0.6" stroke-width="1.6" paint-order="stroke" stroke-linejoin="round" textLength="29.9" lengthAdjust="spacingAndGlyphs">Island</text>
<text x="15.3" y="549.4" font-size="11" fill="#6c6caa" stroke="#6c6caa" stroke-width="0.2" textLength="29.9" lengthAdjust="spacingAndGlyphs">Island</text>
<text x="446.6" y="373.8" font-size="11.5" fill="#80625a" stroke="#fff" stroke-opacity="0.6" stroke-width="1.6" paint-order="stroke" stroke-linejoin="round" textLength="43.6" lengthAdjust="spacingAndGlyphs">Wasatch</text>
<text x="446.6" y="373.8" font-size="11.5" fill="#80625a" stroke="#80625a" stroke-width="0.2" textLength="43.6" lengthAdjust="spacingAndGlyphs">Wasatch</text>
<text x="459.6" y="385.6" font-size="11.5" fill="#80625a" stroke="#fff" stroke-opacity="0.6" stroke-width="1.6" paint-order="stroke" stroke-linejoin="round" textLength="30.2" lengthAdjust="spacingAndGlyphs">Ranch</text>
<text x="459.6" y="385.6" font-size="11.5" fill="#80625a" stroke="#80625a" stroke-width="0.2" textLength="30.2" lengthAdjust="spacingAndGlyphs">Ranch</text>
<text x="423.7" y="442.2" font-size="11.5" fill="#43893f" stroke="#fff" stroke-opacity="0.6" stroke-width="1.6" paint-order="stroke" stroke-linejoin="round" textLength="66.5" lengthAdjust="spacingAndGlyphs">Francis Peak,</text>
<text x="423.7" y="442.2" font-size="11.5" fill="#43893f" stroke="#43893f" stroke-width="0.2" textLength="66.5" lengthAdjust="spacingAndGlyphs">Francis Peak,</text>
<text x="438.8" y="453.7" font-size="11.5" fill="#43893f" stroke="#fff" stroke-opacity="0.6" stroke-width="1.6" paint-order="stroke" stroke-linejoin="round" textLength="36.1" lengthAdjust="spacingAndGlyphs">2904m</text>
<text x="438.8" y="453.7" font-size="11.5" fill="#43893f" stroke="#43893f" stroke-width="0.2" textLength="36.1" lengthAdjust="spacingAndGlyphs">2904m</text>
<circle cx="91.9" cy="265.3" r="5.65" fill="#f88068" stroke="#f0f0f0" stroke-opacity="0.8" stroke-width="1.3"/>
<circle cx="113.8" cy="263.7" r="5.65" fill="#fca191" stroke="#f0f0f0" stroke-opacity="0.8" stroke-width="1.3"/>
<circle cx="162.6" cy="265.8" r="5.65" fill="#fdb8ab" stroke="#f0f0f0" stroke-opacity="0.8" stroke-width="1.3"/>
<circle cx="210.6" cy="264.9" r="5.65" fill="#fdb8ab" stroke="#f0f0f0" stroke-opacity="0.8" stroke-width="1.3"/>
<circle cx="178.6" cy="288.5" r="5.65" fill="#f4786a" stroke="#f0f0f0" stroke-opacity="0.8" stroke-width="1.3"/>
<circle cx="220.7" cy="292.5" r="5.65" fill="#fca191" stroke="#f0f0f0" stroke-opacity="0.8" stroke-width="1.3"/>
<circle cx="129.6" cy="298.7" r="5.65" fill="#e03542" stroke="#f0f0f0" stroke-opacity="0.8" stroke-width="1.3"/>
<circle cx="206.9" cy="329.6" r="5.65" fill="#fdb8ab" stroke="#f0f0f0" stroke-opacity="0.8" stroke-width="1.3"/>
<circle cx="169" cy="336" r="5.65" fill="#ee564a" stroke="#f0f0f0" stroke-opacity="0.8" stroke-width="1.3"/>
<circle cx="135.8" cy="342.8" r="5.65" fill="#ee564a" stroke="#f0f0f0" stroke-opacity="0.8" stroke-width="1.3"/>
<circle cx="249.5" cy="340.7" r="5.65" fill="#fdb8ab" stroke="#f0f0f0" stroke-opacity="0.8" stroke-width="1.3"/>
<circle cx="220.7" cy="363.7" r="5.65" fill="#fdb8ab" stroke="#f0f0f0" stroke-opacity="0.8" stroke-width="1.3"/>
<circle cx="152.8" cy="367.9" r="5.65" fill="#ee564a" stroke="#f0f0f0" stroke-opacity="0.8" stroke-width="1.3"/>
<circle cx="173.8" cy="376.8" r="5.65" fill="#ee564a" stroke="#f0f0f0" stroke-opacity="0.8" stroke-width="1.3"/>
<circle cx="209.7" cy="396.7" r="5.65" fill="#e94846" stroke="#f0f0f0" stroke-opacity="0.8" stroke-width="1.3"/>
<circle cx="240.5" cy="405.7" r="5.65" fill="#f36b5a" stroke="#f0f0f0" stroke-opacity="0.8" stroke-width="1.3"/>
<circle cx="262.8" cy="410" r="5.65" fill="#f88068" stroke="#f0f0f0" stroke-opacity="0.8" stroke-width="1.3"/>
<circle cx="315.5" cy="266.5" r="5.65" fill="#fdb8ab" stroke="#f0f0f0" stroke-opacity="0.8" stroke-width="1.3"/>
<circle cx="353.7" cy="281.8" r="5.65" fill="#fdb8ab" stroke="#f0f0f0" stroke-opacity="0.8" stroke-width="1.3"/>
<circle cx="259.7" cy="317.7" r="5.65" fill="#fdb8ab" stroke="#f0f0f0" stroke-opacity="0.8" stroke-width="1.3"/>
<circle cx="361.8" cy="324.1" r="5.65" fill="#fdb8ab" stroke="#f0f0f0" stroke-opacity="0.8" stroke-width="1.3"/>
<circle cx="338.9" cy="342.9" r="5.65" fill="#fdb8ab" stroke="#f0f0f0" stroke-opacity="0.8" stroke-width="1.3"/>
<circle cx="295.8" cy="348.7" r="5.65" fill="#fca191" stroke="#f0f0f0" stroke-opacity="0.8" stroke-width="1.3"/>
<circle cx="373.6" cy="355.9" r="5.65" fill="#fdb8ab" stroke="#f0f0f0" stroke-opacity="0.8" stroke-width="1.3"/>
<circle cx="348.8" cy="367.9" r="5.65" fill="#fdb8ab" stroke="#f0f0f0" stroke-opacity="0.8" stroke-width="1.3"/>
<circle cx="263.8" cy="374.7" r="5.65" fill="#fdb8ab" stroke="#f0f0f0" stroke-opacity="0.8" stroke-width="1.3"/>
<circle cx="313.9" cy="375.8" r="5.65" fill="#f88068" stroke="#f0f0f0" stroke-opacity="0.8" stroke-width="1.3"/>
<circle cx="336.2" cy="395" r="5.65" fill="#fdb8ab" stroke="#f0f0f0" stroke-opacity="0.8" stroke-width="1.3"/>
<circle cx="294.6" cy="398.7" r="5.65" fill="#fdb8ab" stroke="#f0f0f0" stroke-opacity="0.8" stroke-width="1.3"/>
<circle cx="367.7" cy="402.8" r="5.65" fill="#fdb8ab" stroke="#f0f0f0" stroke-opacity="0.8" stroke-width="1.3"/>
<circle cx="327.6" cy="422.8" r="5.65" fill="#fdb8ab" stroke="#f0f0f0" stroke-opacity="0.8" stroke-width="1.3"/>
<circle cx="284.6" cy="435" r="5.65" fill="#e03542" stroke="#f0f0f0" stroke-opacity="0.8" stroke-width="1.3"/>
<circle cx="370" cy="436.9" r="5.65" fill="#f88068" stroke="#f0f0f0" stroke-opacity="0.8" stroke-width="1.3"/>
<circle cx="360.8" cy="442" r="5.65" fill="#fdb8ab" stroke="#f0f0f0" stroke-opacity="0.8" stroke-width="1.3"/>
<circle cx="354.8" cy="446.8" r="5.65" fill="#fdb8ab" stroke="#f0f0f0" stroke-opacity="0.8" stroke-width="1.3"/>
<circle cx="340" cy="450.8" r="5.65" fill="#fca191" stroke="#f0f0f0" stroke-opacity="0.8" stroke-width="1.3"/>
<circle cx="350.8" cy="456.9" r="5.65" fill="#fdb8ab" stroke="#f0f0f0" stroke-opacity="0.8" stroke-width="1.3"/>
<circle cx="308.7" cy="459.8" r="5.65" fill="#a50f3b" stroke="#f0f0f0" stroke-opacity="0.8" stroke-width="1.3"/>
<circle cx="378.7" cy="461.5" r="5.65" fill="#fdb8ab" stroke="#f0f0f0" stroke-opacity="0.8" stroke-width="1.3"/>
<circle cx="330.9" cy="480" r="5.65" fill="#ee564a" stroke="#f0f0f0" stroke-opacity="0.8" stroke-width="1.3"/>
<circle cx="371.8" cy="484.8" r="5.65" fill="#d9293c" stroke="#f0f0f0" stroke-opacity="0.8" stroke-width="1.3"/>
<circle cx="397" cy="499.4" r="5.65" fill="#fdb8ab" stroke="#f0f0f0" stroke-opacity="0.8" stroke-width="1.3"/>
<circle cx="339.5" cy="505.6" r="5.65" fill="#d9293c" stroke="#f0f0f0" stroke-opacity="0.8" stroke-width="1.3"/>
<circle cx="361.8" cy="519.7" r="5.65" fill="#d9293c" stroke="#f0f0f0" stroke-opacity="0.8" stroke-width="1.3"/>
<circle cx="397.9" cy="533.8" r="5.65" fill="#fdb8ab" stroke="#f0f0f0" stroke-opacity="0.8" stroke-width="1.3"/>
<circle cx="366.9" cy="542.9" r="5.65" fill="#d9293c" stroke="#f0f0f0" stroke-opacity="0.8" stroke-width="1.3"/>
<circle cx="396.8" cy="576.6" r="5.65" fill="#f88068" stroke="#f0f0f0" stroke-opacity="0.8" stroke-width="1.3"/>
<circle cx="420.6" cy="610.6" r="5.65" fill="#fdb8ab" stroke="#f0f0f0" stroke-opacity="0.8" stroke-width="1.3"/>
<circle cx="394.9" cy="616" r="5.65" fill="#e03542" stroke="#f0f0f0" stroke-opacity="0.8" stroke-width="1.3"/>
<circle cx="352" cy="618.6" r="5.65" fill="#e03542" stroke="#f0f0f0" stroke-opacity="0.8" stroke-width="1.3"/>
<circle cx="381.8" cy="641.6" r="5.65" fill="#fdb8ab" stroke="#f0f0f0" stroke-opacity="0.8" stroke-width="1.3"/>
<circle cx="438.8" cy="641.6" r="5.65" fill="#fdb8ab" stroke="#f0f0f0" stroke-opacity="0.8" stroke-width="1.3"/>
<circle cx="321.8" cy="646.6" r="5.65" fill="#d9293c" stroke="#f0f0f0" stroke-opacity="0.8" stroke-width="1.3"/>
<circle cx="410.6" cy="657.6" r="5.65" fill="#fdb8ab" stroke="#f0f0f0" stroke-opacity="0.8" stroke-width="1.3"/>
<circle cx="362.8" cy="671.5" r="5.65" fill="#f88068" stroke="#f0f0f0" stroke-opacity="0.8" stroke-width="1.3"/>
<circle cx="400.6" cy="677.7" r="5.65" fill="#fdb8ab" stroke="#f0f0f0" stroke-opacity="0.8" stroke-width="1.3"/>
<circle cx="446" cy="680.4" r="5.65" fill="#fdb8ab" stroke="#f0f0f0" stroke-opacity="0.8" stroke-width="1.3"/>
<circle cx="348.8" cy="704.6" r="5.65" fill="#f88068" stroke="#f0f0f0" stroke-opacity="0.8" stroke-width="1.3"/>
<circle cx="329.6" cy="716" r="5.65" fill="#d9293c" stroke="#f0f0f0" stroke-opacity="0.8" stroke-width="1.3"/>
<circle cx="413" cy="712.6" r="5.65" fill="#fdb8ab" stroke="#f0f0f0" stroke-opacity="0.8" stroke-width="1.3"/>
<circle cx="385.8" cy="717.5" r="5.65" fill="#fdb8ab" stroke="#f0f0f0" stroke-opacity="0.8" stroke-width="1.3"/>
<rect x="43.0" y="273.2" width="97.8" height="18.0" fill="#f0f0f0" fill-opacity="0.9"/>
<text x="44.7" y="287" font-size="12" fill="#444" textLength="94.3" lengthAdjust="spacingAndGlyphs">Howard’s Slough</text>
<rect x="104.8" y="306.2" width="50.2" height="18.0" fill="#f0f0f0" fill-opacity="0.9"/>
<text x="106.5" y="320" font-size="12" fill="#444" textLength="46.7" lengthAdjust="spacingAndGlyphs">Bayview</text>
<rect x="188.0" y="299.95" width="65.8" height="18.0" fill="#f0f0f0" fill-opacity="0.9"/>
<text x="189.7" y="313.75" font-size="12" fill="#444" textLength="62.3" lengthAdjust="spacingAndGlyphs">Steed Pond</text>
<rect x="188.0" y="370.7" width="64.9" height="18.0" fill="#f0f0f0" fill-opacity="0.9"/>
<text x="189.7" y="384.5" font-size="12" fill="#444" textLength="61.4" lengthAdjust="spacingAndGlyphs">Bluff Ridge</text>
<rect x="184.20000000000002" y="403.8" width="51.6" height="18.0" fill="#f0f0f0" fill-opacity="0.9"/>
<text x="185.9" y="417.6" font-size="12" fill="#444" textLength="48.1" lengthAdjust="spacingAndGlyphs">Pig Road</text>
<rect x="252.20000000000002" y="417.3" width="22.3" height="18.0" fill="#f0f0f0" fill-opacity="0.9"/>
<text x="253.9" y="431.1" font-size="12" fill="#444" textLength="18.8" lengthAdjust="spacingAndGlyphs">Cox</text>
<rect x="266.0" y="442.2" width="38.0" height="18.0" fill="#f0f0f0" fill-opacity="0.9"/>
<text x="267.7" y="456" font-size="12" fill="#444" textLength="34.5" lengthAdjust="spacingAndGlyphs">Flint’s</text>
<rect x="291.40000000000003" y="467.2" width="35.4" height="18.0" fill="#f0f0f0" fill-opacity="0.9"/>
<text x="293.1" y="481" font-size="12" fill="#444" textLength="31.9" lengthAdjust="spacingAndGlyphs">Jones</text>
<rect x="321.8" y="289.8" width="65.0" height="18.0" fill="#f0f0f0" fill-opacity="0.9"/>
<text x="323.5" y="303.6" font-size="12" fill="#444" textLength="61.5" lengthAdjust="spacingAndGlyphs">Cedar Cove</text>
<rect x="321.0" y="550.0" width="92.0" height="18.0" fill="#f0f0f0" fill-opacity="0.9"/>
<text x="322.7" y="563.8" font-size="12" fill="#444" textLength="88.5" lengthAdjust="spacingAndGlyphs">Farmington Bay</text>
<rect x="349.90000000000003" y="584.0" width="92.6" height="18.0" fill="#f0f0f0" fill-opacity="0.9"/>
<text x="351.6" y="597.8" font-size="12" fill="#444" textLength="89.1" lengthAdjust="spacingAndGlyphs">Centerville Park</text>
<rect x="334.90000000000003" y="626.0" width="34.1" height="18.0" fill="#f0f0f0" fill-opacity="0.9"/>
<text x="336.6" y="639.8" font-size="12" fill="#444" textLength="30.6" lengthAdjust="spacingAndGlyphs">BARD</text>
<rect x="417.3" y="648.6" width="44.1" height="18.0" fill="#f0f0f0" fill-opacity="0.9"/>
<text x="419" y="662.4" font-size="12" fill="#444" textLength="40.6" lengthAdjust="spacingAndGlyphs">Tolman</text>
<rect x="293.3" y="653.2" width="57.7" height="18.0" fill="#f0f0f0" fill-opacity="0.9"/>
<text x="295" y="667" font-size="12" fill="#444" textLength="54.2" lengthAdjust="spacingAndGlyphs">Newstate</text>
<rect x="331.5" y="678.2" width="62.8" height="18.0" fill="#f0f0f0" fill-opacity="0.9"/>
<text x="333.2" y="692" font-size="12" fill="#444" textLength="59.3" lengthAdjust="spacingAndGlyphs">Mill’s Park</text>
<rect x="423.0" y="688.0" width="45.5" height="18.0" fill="#f0f0f0" fill-opacity="0.9"/>
<text x="424.7" y="701.8" font-size="12" fill="#444" textLength="42.0" lengthAdjust="spacingAndGlyphs">Mueller</text>
<rect x="293.8" y="722.9000000000001" width="74.0" height="18.0" fill="#f0f0f0" fill-opacity="0.9"/>
<text x="295.5" y="736.7" font-size="12" fill="#444" textLength="70.5" lengthAdjust="spacingAndGlyphs">South Sewer</text>
<rect x="8.5" y="777" width="186.5" height="14.6" fill="#fff" fill-opacity="0.82"/>
<text x="11.2" y="788.2" font-size="11" fill="#3c3c3c" textLength="182" lengthAdjust="spacingAndGlyphs">© 2025 Mapbox  © OpenStreetMap</text>
<rect x="7.5" y="217.5" width="486" height="575" fill="none" stroke="#e8e4e4" stroke-width="1"/>
</svg>
<div style="position:absolute;left:561px;top:629px;width:432px;height:1px;background:#f0f0f0"></div>
<div style="position:absolute;left:561px;top:580px;width:432px;height:1px;background:#f0f0f0"></div>
<div style="position:absolute;left:561px;top:531px;width:432px;height:1px;background:#f0f0f0"></div>
<div style="position:absolute;left:561px;top:482px;width:432px;height:1px;background:#f0f0f0"></div>
<div style="position:absolute;left:561px;top:433px;width:432px;height:1px;background:#f0f0f0"></div>
<div style="position:absolute;left:561px;top:384px;width:432px;height:1px;background:#f0f0f0"></div>
<div style="position:absolute;left:561px;top:335px;width:432px;height:1px;background:#f0f0f0"></div>
<div style="position:absolute;left:561px;top:287px;width:432px;height:1px;background:#f0f0f0"></div>
<div style="position:absolute;left:561px;top:238px;width:432px;height:1px;background:#f0f0f0"></div>
<div style="position:absolute;left:566px;top:218px;width:1px;height:412px;background:#f0f0f0"></div>
<div style="position:absolute;left:569.1px;top:570.0px;width:17.8px;height:59.0px;background:#bab0ac"></div>
<div style="position:absolute;left:566px;top:630px;width:1px;height:4px;background:#ebebeb"></div>
<div style="position:absolute;left:593.1px;top:484.0px;width:17.8px;height:145.0px;background:#bab0ac"></div>
<div style="position:absolute;left:590px;top:630px;width:1px;height:4px;background:#ebebeb"></div>
<div style="position:absolute;left:616.1px;top:539.0px;width:17.8px;height:90.0px;background:#bab0ac"></div>
<div style="position:absolute;left:613px;top:630px;width:1px;height:4px;background:#ebebeb"></div>
<div style="position:absolute;left:640.1px;top:490.0px;width:17.8px;height:139.0px;background:#bab0ac"></div>
<div style="position:absolute;left:637px;top:630px;width:1px;height:4px;background:#ebebeb"></div>
<div style="position:absolute;left:664.1px;top:357.0px;width:17.8px;height:272.0px;background:#bab0ac"></div>
<div style="position:absolute;left:661px;top:630px;width:1px;height:4px;background:#ebebeb"></div>
<div style="position:absolute;left:687.1px;top:383.0px;width:17.8px;height:246.0px;background:#bab0ac"></div>
<div style="position:absolute;left:684px;top:630px;width:1px;height:4px;background:#ebebeb"></div>
<div style="position:absolute;left:711.1px;top:340.0px;width:17.8px;height:289.0px;background:#bab0ac"></div>
<div style="position:absolute;left:711.1px;top:339.0px;width:17.8px;height:1.0px;background:#e15759"></div>
<div style="position:absolute;left:708px;top:630px;width:1px;height:4px;background:#ebebeb"></div>
<div style="position:absolute;left:735.1px;top:350.0px;width:17.8px;height:279.0px;background:#bab0ac"></div>
<div style="position:absolute;left:732px;top:630px;width:1px;height:4px;background:#ebebeb"></div>
<div style="position:absolute;left:759.1px;top:341.0px;width:17.8px;height:288.0px;background:#bab0ac"></div>
<div style="position:absolute;left:756px;top:630px;width:1px;height:4px;background:#ebebeb"></div>
<div style="position:absolute;left:782.1px;top:305.0px;width:17.8px;height:324.0px;background:#bab0ac"></div>
<div style="position:absolute;left:779px;top:630px;width:1px;height:4px;background:#ebebeb"></div>
<div style="position:absolute;left:806.1px;top:247.0px;width:17.8px;height:382.0px;background:#bab0ac"></div>
<div style="position:absolute;left:806.1px;top:244.0px;width:17.8px;height:3.0px;background:#e15759"></div>
<div style="position:absolute;left:803px;top:630px;width:1px;height:4px;background:#ebebeb"></div>
<div style="position:absolute;left:830.1px;top:242.0px;width:17.8px;height:387.0px;background:#bab0ac"></div>
<div style="position:absolute;left:830.1px;top:238.0px;width:17.8px;height:4.0px;background:#e15759"></div>
<div style="position:absolute;left:827px;top:630px;width:1px;height:4px;background:#ebebeb"></div>
<div style="position:absolute;left:853.1px;top:406.0px;width:17.8px;height:223.0px;background:#bab0ac"></div>
<div style="position:absolute;left:853.1px;top:402.0px;width:17.8px;height:4.0px;background:#e15759"></div>
<div style="position:absolute;left:850px;top:630px;width:1px;height:4px;background:#ebebeb"></div>
<div style="position:absolute;left:877.1px;top:475.0px;width:17.8px;height:154.0px;background:#bab0ac"></div>
<div style="position:absolute;left:877.1px;top:470.0px;width:17.8px;height:5.0px;background:#e15759"></div>
<div style="position:absolute;left:874px;top:630px;width:1px;height:4px;background:#ebebeb"></div>
<div style="position:absolute;left:901.1px;top:532.0px;width:17.8px;height:97.0px;background:#bab0ac"></div>
<div style="position:absolute;left:898px;top:630px;width:1px;height:4px;background:#ebebeb"></div>
<div style="position:absolute;left:925.1px;top:495.0px;width:17.8px;height:134.0px;background:#bab0ac"></div>
<div style="position:absolute;left:925.1px;top:493.0px;width:17.8px;height:2.0px;background:#e15759"></div>
<div style="position:absolute;left:922px;top:630px;width:1px;height:4px;background:#ebebeb"></div>
<div style="position:absolute;left:948.1px;top:540.0px;width:17.8px;height:89.0px;background:#bab0ac"></div>
<div style="position:absolute;left:948.1px;top:538.0px;width:17.8px;height:2.0px;background:#e15759"></div>
<div style="position:absolute;left:945px;top:630px;width:1px;height:4px;background:#ebebeb"></div>
<div style="position:absolute;left:972.1px;top:597.0px;width:17.8px;height:32.0px;background:#bab0ac"></div>
<div style="position:absolute;left:972.1px;top:595.0px;width:17.8px;height:2.0px;background:#e15759"></div>
<div style="position:absolute;left:969px;top:630px;width:1px;height:4px;background:#ebebeb"></div>
<svg class="b" style="left:0;top:800px" width="1000" height="27" viewBox="0 800 1000 27" fill="none" stroke-linecap="round" stroke-linejoin="round">
<g stroke="#2e2e2e" stroke-linecap="butt"><path d="M41.40 810.05v6.70M38.05 813.40h6.70" stroke-width="1.15"/><path d="M37.40 806.95v4.90M34.95 809.40h4.90M37.40 814.95v4.90M34.95 817.40h4.90M45.40 806.95v4.90M42.95 809.40h4.90M45.40 814.95v4.90M42.95 817.40h4.90" stroke-width="1.0"/><path d="M41.40 804.90v3.00M39.90 806.40h3.00M41.40 818.90v3.00M39.90 820.40h3.00M34.40 811.90v3.00M32.90 813.40h3.00M48.40 811.90v3.00M46.90 813.40h3.00" stroke-width="1.25"/></g>
<g stroke="#bdbdbd" stroke-width="1.3">
<path d="M623 807.2l-2.5 2.6 2.5 2.6M620.8 809.8h8.6a5.8 5.8 0 0 1 0 11.6h-8.2"/>
<path d="M673 807.2l2.5 2.6-2.5 2.6M675.2 809.8h-8.6a5.8 5.8 0 0 0 0 11.6h8.2"/>
<path d="M700.6 806.5v6.6M705.3 807.2l-2.5 2.6 2.5 2.6M703.1 809.8h7.3a5.8 5.8 0 0 1 0 11.6h-8.2"/>
<path d="M749 807.6l2.5 2.4-2.5 2.4M751 810h-10.5a4 4 0 0 0 0 8h7.5a4 4 0 0 0 4-4"/>
</g>
<path d="M766.4 812.2h7.2l-3.6 4.8z" fill="#b5b5b5" stroke="none"/>
<path d="M795.5 807v12.6" stroke="#b8b8b8" stroke-width="1"/>
<g stroke="#666" stroke-width="1.4">
<path d="M826.2 816.4h-3.6v-9.4h14.2v9.4h-3.8M829.7 812.6v8.6M827.1 818.7l2.6 2.6 2.6-2.6"/>
<path d="M873.7 810.3v-3.6h3.8M884.7 806.7h3.8v3.6M888.5 817.5v3.6h-3.8M877.5 821.1h-3.8v-3.6"/>
<rect x="876.6" y="809.6" width="9" height="8.6" stroke-width="1.5"/>
<circle cx="914.2" cy="814" r="2.5"/><circle cx="923.3" cy="808.8" r="2.5"/><circle cx="923.3" cy="819.3" r="2.5"/>
<path d="M916.4 812.8l4.7-2.7M916.4 815.3l4.7 2.7"/>
</g>
<path d="M842.4 812.2h7.2l-3.6 4.8z" fill="#555" stroke="none"/>
</svg>
<div class="t" style="left:217.9px;top:28.3px;font-size:19.3px;font-weight:400;color:#111;-webkit-text-stroke:0.9px #111;transform:scaleX(1.1431);">2022 Davis County Current West Nile virus Conditions</div>
<div class="t" style="left:8.2px;top:155.8px;font-size:15px;font-weight:400;color:#333;-webkit-text-stroke:0.55px #333;transform:scaleX(1.1111);">Locations of Pools</div>
<div class="t" style="left:8.2px;top:178.0px;font-size:12px;font-weight:400;color:#808080;letter-spacing:0.204px;">Click on a location to see more details.</div>
<div class="t" style="left:8.2px;top:196.2px;font-size:12px;font-weight:400;color:#808080;letter-spacing:0.144px;">To go back to main image click on map again.</div>
<div class="t" style="left:507.3px;top:155.8px;font-size:15px;font-weight:400;color:#333;-webkit-text-stroke:0.55px #333;transform:scaleX(1.1206);">Weekly Pool Totals</div>
<div class="t" style="left:507.3px;top:178.0px;font-size:12px;font-weight:400;color:#808080;letter-spacing:0.282px;">Click a color on a week to see the positive locations for that week.</div>
<div class="t" style="left:507.3px;top:196.2px;font-size:12px;font-weight:400;color:#808080;letter-spacing:0.183px;">To go back to main image click on graph again.</div>
<div class="t" style="left:153.1px;top:85.7px;font-size:12px;font-weight:400;color:#3a3a3a;-webkit-text-stroke:0.42px #3a3a3a;transform:scaleX(1.0559);">Total Pools Tested</div>
<div class="t" style="left:239.8px;top:114.7px;font-size:12px;font-weight:400;color:#6a6a6a;letter-spacing:0.667px;">3,738</div>
<div class="t" style="left:296.3px;top:85.7px;font-size:12px;font-weight:400;color:#3a3a3a;-webkit-text-stroke:0.42px #3a3a3a;transform:scaleX(1.0687);">Mosquitoes Tested</div>
<div class="t" style="left:369.0px;top:114.7px;font-size:12px;font-weight:400;color:#6a6a6a;letter-spacing:0.552px;">320,785</div>
<div class="t" style="left:581.7px;top:85.7px;font-size:12px;font-weight:400;color:#3a3a3a;-webkit-text-stroke:0.42px #3a3a3a;transform:scaleX(1.0426);">Postive Pools</div>
<div class="t" style="left:623.2px;top:114.7px;font-size:12px;font-weight:400;color:#6a6a6a;letter-spacing:0.641px;">25</div>
<div class="t" style="left:723.8px;top:85.7px;font-size:12px;font-weight:400;color:#3a3a3a;-webkit-text-stroke:0.42px #3a3a3a;transform:scaleX(1.1035);">Positivity Rate</div>
<div class="t" style="left:743.5px;top:114.7px;font-size:12px;font-weight:400;color:#6a6a6a;letter-spacing:0.592px;">0.67%</div>
<div class="t" style="left:506.0px;top:779.4px;font-size:12px;font-weight:400;color:#3a3a3a;-webkit-text-stroke:0.42px #3a3a3a;transform:scaleX(1.0863);">Test Status</div>
<div class="t" style="left:600.0px;top:779.1px;font-size:12px;font-weight:400;color:#6a6a6a;letter-spacing:0.455px;">Confirmed</div>
<div class="t" style="left:720.0px;top:779.1px;font-size:12px;font-weight:400;color:#6a6a6a;letter-spacing:0.589px;">Negative</div>
<div class="t" style="left:55.1px;top:807.5px;font-size:12px;font-weight:700;color:#6e6e6e;letter-spacing:0.073px;">View on Tableau Public</div>
<div class="t" style="left:932.5px;top:807.8px;font-size:12px;font-weight:700;color:#6e6e6e;letter-spacing:0.260px;">Share</div>
<div class="t" style="left:544.8px;top:575.0px;font-size:12px;font-weight:400;color:#7a7a7a;letter-spacing:0.641px;">50</div>
<div class="t" style="left:537.5px;top:526.2px;font-size:12px;font-weight:400;color:#7a7a7a;letter-spacing:0.634px;">100</div>
<div class="t" style="left:537.5px;top:477.3px;font-size:12px;font-weight:400;color:#7a7a7a;letter-spacing:0.634px;">150</div>
<div class="t" style="left:537.5px;top:428.5px;font-size:12px;font-weight:400;color:#7a7a7a;letter-spacing:0.634px;">200</div>
<div class="t" style="left:537.5px;top:379.6px;font-size:12px;font-weight:400;color:#7a7a7a;letter-spacing:0.634px;">250</div>
<div class="t" style="left:537.5px;top:330.8px;font-size:12px;font-weight:400;color:#7a7a7a;letter-spacing:0.634px;">300</div>
<div class="t" style="left:537.5px;top:281.9px;font-size:12px;font-weight:400;color:#7a7a7a;letter-spacing:0.634px;">350</div>
<div class="t" style="left:537.5px;top:233.1px;font-size:12px;font-weight:400;color:#7a7a7a;letter-spacing:0.634px;">400</div>
<div class="t" style="left:551.8px;top:614.9px;font-size:12px;font-weight:400;color:#7a7a7a;letter-spacing:0.000px;">0</div>
<div class="t" style="left:517.1px;top:468.8px;transform:rotate(-90deg);font-size:12px;font-weight:400;color:#333;letter-spacing:0.266px;">Number of Pools</div>
<div class="t" style="left:571.8px;top:711.0px;transform:rotate(-90deg);font-size:12px;font-weight:400;color:#757575;letter-spacing:0.326px;">May 29, 2022</div>
<div class="t" style="left:573.3px;top:567.0px;transform:rotate(-90deg);font-size:12px;font-weight:400;color:#333;letter-spacing:0.641px;">60</div>
<div class="t" style="left:595.8px;top:706.5px;transform:rotate(-90deg);font-size:12px;font-weight:400;color:#757575;letter-spacing:0.218px;">June 5, 2022</div>
<div class="t" style="left:597.3px;top:481.0px;transform:rotate(-90deg);font-size:12px;font-weight:400;color:#333;letter-spacing:0.384px;">148</div>
<div class="t" style="left:618.8px;top:713.2px;transform:rotate(-90deg);font-size:12px;font-weight:400;color:#757575;letter-spacing:0.202px;">June 12, 2022</div>
<div class="t" style="left:620.3px;top:535.8px;transform:rotate(-90deg);font-size:12px;font-weight:400;color:#333;letter-spacing:0.641px;">92</div>
<div class="t" style="left:642.8px;top:713.2px;transform:rotate(-90deg);font-size:12px;font-weight:400;color:#757575;letter-spacing:0.202px;">June 19, 2022</div>
<div class="t" style="left:644.3px;top:486.9px;transform:rotate(-90deg);font-size:12px;font-weight:400;color:#333;letter-spacing:0.384px;">142</div>
<div class="t" style="left:666.8px;top:713.2px;transform:rotate(-90deg);font-size:12px;font-weight:400;color:#757575;letter-spacing:0.202px;">June 26, 2022</div>
<div class="t" style="left:668.3px;top:354.0px;transform:rotate(-90deg);font-size:12px;font-weight:400;color:#333;letter-spacing:0.384px;">278</div>
<div class="t" style="left:689.8px;top:700.9px;transform:rotate(-90deg);font-size:12px;font-weight:400;color:#757575;letter-spacing:0.135px;">July 3, 2022</div>
<div class="t" style="left:691.3px;top:379.4px;transform:rotate(-90deg);font-size:12px;font-weight:400;color:#333;letter-spacing:0.384px;">252</div>
<div class="t" style="left:713.8px;top:709.3px;transform:rotate(-90deg);font-size:12px;font-weight:400;color:#757575;letter-spacing:0.267px;">July 10, 2022</div>
<div class="t" style="left:715.3px;top:493.5px;transform:rotate(-90deg);font-size:12px;font-weight:400;color:#333;letter-spacing:0.384px;">296</div>
<div class="t" style="left:737.8px;top:709.3px;transform:rotate(-90deg);font-size:12px;font-weight:400;color:#757575;letter-spacing:0.267px;">July 17, 2022</div>
<div class="t" style="left:739.3px;top:347.2px;transform:rotate(-90deg);font-size:12px;font-weight:400;color:#333;letter-spacing:0.384px;">285</div>
<div class="t" style="left:761.8px;top:709.3px;transform:rotate(-90deg);font-size:12px;font-weight:400;color:#757575;letter-spacing:0.267px;">July 24, 2022</div>
<div class="t" style="left:763.3px;top:337.4px;transform:rotate(-90deg);font-size:12px;font-weight:400;color:#333;letter-spacing:0.384px;">295</div>
<div class="t" style="left:784.8px;top:709.3px;transform:rotate(-90deg);font-size:12px;font-weight:400;color:#757575;letter-spacing:0.267px;">July 31, 2022</div>
<div class="t" style="left:786.3px;top:301.3px;transform:rotate(-90deg);font-size:12px;font-weight:400;color:#333;letter-spacing:0.384px;">332</div>
<div class="t" style="left:808.8px;top:719.5px;transform:rotate(-90deg);font-size:12px;font-weight:400;color:#757575;letter-spacing:0.313px;">August 7, 2022</div>
<div class="t" style="left:810.3px;top:447.1px;transform:rotate(-90deg);font-size:12px;font-weight:400;color:#333;letter-spacing:0.384px;">391</div>
<div class="t" style="left:832.8px;top:727.1px;transform:rotate(-90deg);font-size:12px;font-weight:400;color:#757575;letter-spacing:0.357px;">August 14, 2022</div>
<div class="t" style="left:834.3px;top:444.7px;transform:rotate(-90deg);font-size:12px;font-weight:400;color:#333;letter-spacing:0.384px;">396</div>
<div class="t" style="left:855.8px;top:726.8px;transform:rotate(-90deg);font-size:12px;font-weight:400;color:#757575;letter-spacing:0.335px;">August 21, 2022</div>
<div class="t" style="left:857.3px;top:526.8px;transform:rotate(-90deg);font-size:12px;font-weight:400;color:#333;letter-spacing:0.384px;">228</div>
<div class="t" style="left:879.8px;top:726.8px;transform:rotate(-90deg);font-size:12px;font-weight:400;color:#757575;letter-spacing:0.335px;">August 28, 2022</div>
<div class="t" style="left:881.3px;top:561.0px;transform:rotate(-90deg);font-size:12px;font-weight:400;color:#333;letter-spacing:0.384px;">158</div>
<div class="t" style="left:903.8px;top:741.5px;transform:rotate(-90deg);font-size:12px;font-weight:400;color:#757575;letter-spacing:0.295px;">September 4, 2022</div>
<div class="t" style="left:905.3px;top:528.9px;transform:rotate(-90deg);font-size:12px;font-weight:400;color:#333;letter-spacing:0.641px;">99</div>
<div class="t" style="left:927.8px;top:748.8px;transform:rotate(-90deg);font-size:12px;font-weight:400;color:#757575;letter-spacing:0.367px;">September 11, 2022</div>
<div class="t" style="left:929.3px;top:571.2px;transform:rotate(-90deg);font-size:12px;font-weight:400;color:#333;letter-spacing:0.384px;">137</div>
<div class="t" style="left:950.8px;top:748.8px;transform:rotate(-90deg);font-size:12px;font-weight:400;color:#757575;letter-spacing:0.315px;">September 18, 2022</div>
<div class="t" style="left:952.3px;top:590.3px;transform:rotate(-90deg);font-size:12px;font-weight:400;color:#333;letter-spacing:0.641px;">91</div>
<div class="t" style="left:974.8px;top:748.8px;transform:rotate(-90deg);font-size:12px;font-weight:400;color:#757575;letter-spacing:0.315px;">September 25, 2022</div>
<div class="t" style="left:976.3px;top:618.6px;transform:rotate(-90deg);font-size:12px;font-weight:400;color:#333;letter-spacing:0.641px;">33</div>
</div></body></html>
